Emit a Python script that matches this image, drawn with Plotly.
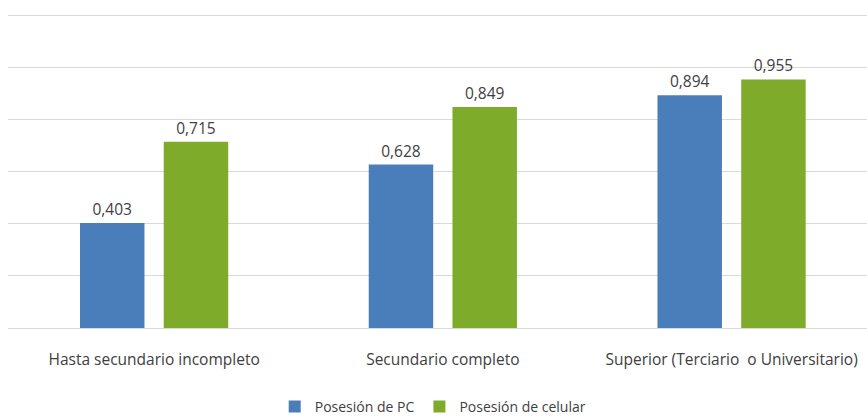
import plotly.graph_objects as go

categories = ["Hasta secundario incompleto", "Secundario completo", "Superior (Terciario  o Universitario)"]
pc_values = [0.403, 0.628, 0.894]
cel_values = [0.715, 0.849, 0.955]
series_names = ["Posesión de PC", "Posesión de celular"]

def fmt(v):
    return f"{v:.3f}".replace(".", ",")

BLUE = "#4A7EBB"
GREEN = "#7FAB2B"
TXT = "#404040"
FONT = "Open Sans"

fig = go.Figure()
for name, vals, col in [(series_names[0], pc_values, BLUE), (series_names[1], cel_values, GREEN)]:
    fig.add_trace(go.Bar(
        x=categories, y=vals, name=name, marker_color=col, marker_line_width=0,
        text=[fmt(v) for v in vals], textposition="outside", cliponaxis=False,
        textfont=dict(color=TXT, size=15.5, family=FONT),
    ))

H = 416
T = 13
B = 25
fig.update_layout(
    width=867, height=H,
    margin=dict(l=8, r=0, t=T, b=B),
    paper_bgcolor="white", plot_bgcolor="white",
    barmode="group", bargap=0.42, bargroupgap=0.23,
    font=dict(family=FONT, color=TXT, size=14),
    showlegend=True,
    legend=dict(orientation="h", x=0.495, xanchor="center",
                yref="container", y=(H - 407) / H, yanchor="middle",
                font=dict(size=14, color=TXT), itemwidth=30, traceorder="normal"),
)
fig.update_xaxes(range=[-0.506, 2.469], showgrid=False, showline=False, zeroline=False,
                 ticks="outside", ticklen=17, tickcolor="rgba(0,0,0,0)", automargin=False,
                 tickfont=dict(size=15.5, color=TXT, family=FONT))
fig.update_yaxes(range=[0, 1.21], dtick=0.2, showticklabels=False, gridcolor="#D9D9D9",
                 domain=[(H - B - 328) / (H - T - B), 1], automargin=False,
                 gridwidth=1, zeroline=True, zerolinecolor="#D9D9D9", zerolinewidth=1, showline=False)

fig.write_html("out.html")
